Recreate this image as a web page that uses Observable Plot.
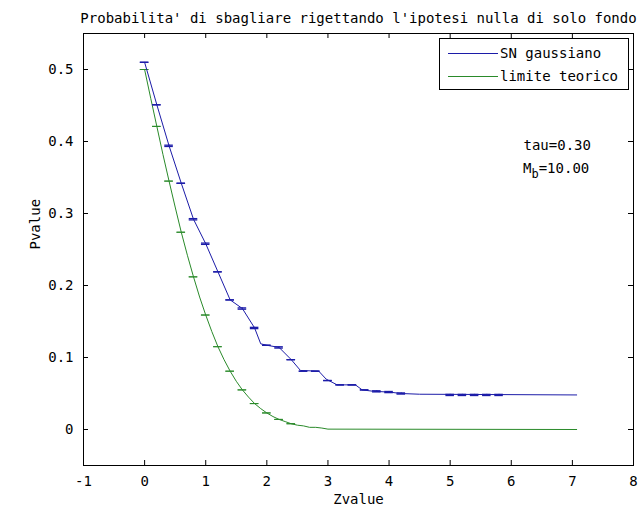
<!DOCTYPE html>
<html><head><meta charset="utf-8">
<script src="https://cdn.jsdelivr.net/npm/d3@7"></script>
<script src="https://cdn.jsdelivr.net/npm/@observablehq/plot@0.6"></script>
<style>body{margin:0;background:#fff}</style>
</head><body><div id="chart"></div>
<script>
const title = "Probabilita' di sbagliare rigettando l'ipotesi nulla di solo fondo";
const xLabel = "Zvalue";
const yLabel = "Pvalue";
const seriesNames = ["SN gaussiano", "limite teorico"];
const seriesColors = ["#1c1ca8", "#2a8a2a"];
const xTicks = [-1, 0, 1, 2, 3, 4, 5, 6, 7, 8];
const yTicks = [0, 0.1, 0.2, 0.3, 0.4, 0.5];
const yTickLabels = ["0", "0.1", "0.2", "0.3", "0.4", "0.5"];

// SN gaussiano (blue)
const snZ = [0, 0.2, 0.4, 0.6, 0.8, 1.0, 1.2, 1.4, 1.6, 1.8, 1.9, 2.0, 2.2, 2.4, 2.55, 2.85, 2.97, 3.15, 3.45, 3.56, 3.75, 4.0, 4.2, 4.5, 7.07];
const snP = [0.510, 0.451, 0.394, 0.342, 0.292, 0.258, 0.219, 0.180, 0.168, 0.141, 0.119, 0.117, 0.114, 0.097, 0.082, 0.081, 0.070, 0.062, 0.062, 0.055, 0.053, 0.052, 0.050, 0.049, 0.048];
// error bars on SN
const snBarZ = [0, 0.2, 0.4, 0.6, 0.8, 1.0, 1.2, 1.4, 1.6, 1.8, 2.0, 2.2, 2.4, 2.6, 2.8, 3.0, 3.2, 3.4, 3.6, 3.8, 4.0, 4.2, 5.0, 5.2, 5.4, 5.6, 5.8];
const snBarP = [0.510, 0.451, 0.394, 0.342, 0.292, 0.258, 0.219, 0.180, 0.168, 0.141, 0.117, 0.114, 0.097, 0.081, 0.081, 0.068, 0.062, 0.062, 0.055, 0.053, 0.052, 0.050, 0.048, 0.048, 0.048, 0.048, 0.048];
const snBarE = [0, 0, 0.0009, 0, 0.0009, 0.0009, 0, 0, 0.0009, 0.0009, 0, 0.0009, 0, 0, 0, 0, 0, 0, 0, 0.0008, 0.0008, 0.0008, 0.0008, 0.0008, 0.0008, 0.0008, 0.0008];

// limite teorico (green)
const limZ = [0, 0.1, 0.2, 0.3, 0.4, 0.5, 0.6, 0.7, 0.8, 0.9, 1.0, 1.1, 1.2, 1.3, 1.4, 1.5, 1.6, 1.7, 1.8, 1.9, 2.0, 2.1, 2.2, 2.3, 2.4, 2.5, 2.6, 2.7, 2.8, 2.9, 3.0, 7.07];
const limP = [0.500, 0.460, 0.421, 0.382, 0.345, 0.309, 0.274, 0.242, 0.212, 0.184, 0.159, 0.136, 0.115, 0.097, 0.081, 0.067, 0.055, 0.045, 0.036, 0.029, 0.023, 0.018, 0.014, 0.011, 0.008, 0.006, 0.005, 0.003, 0.003, 0.002, 0.0005, 0];
const limBarZ = [0, 0.2, 0.4, 0.6, 0.8, 1.0, 1.2, 1.4, 1.6, 1.8, 2.0, 2.2, 2.4];
const limBarP = [0.500, 0.421, 0.345, 0.274, 0.212, 0.159, 0.115, 0.081, 0.055, 0.036, 0.023, 0.014, 0.008];

const annTau = {z: 6.2, p: 0.395, text: "tau=0.30"};
const annMb = {z: 6.2, p: 0.362, main: "M", sub: "b", rest: "=10.00"};

const sn = snZ.map((z, i) => ({z, p: snP[i]}));
const lim = limZ.map((z, i) => ({z, p: limP[i]}));
const snBars = snBarZ.map((z, i) => ({z, p: snBarP[i], e: snBarE[i]}));
const limBars = limBarZ.map((z, i) => ({z, p: limBarP[i], e: 0}));

const W = 643, H = 514, mL = 83, mR = 10, mT = 33, mB = 49;
const fw = W - mL - mR, fh = H - mT - mB;
const capHalf = 0.07;
const font = "DejaVu Sans Mono";

function bars(data, color, sw) {
  return [
    Plot.ruleX(data, {x: "z", y1: d => d.p - d.e, y2: d => d.p + d.e, stroke: color, strokeWidth: 1}),
    Plot.ruleY(data, {y: d => d.p - d.e, x1: d => d.z - capHalf, x2: d => d.z + capHalf, stroke: color, strokeWidth: sw}),
    Plot.ruleY(data, {y: d => d.p + d.e, x1: d => d.z - capHalf, x2: d => d.z + capHalf, stroke: color, strokeWidth: sw})
  ];
}

const chart = Plot.plot({
  width: W, height: H,
  marginLeft: mL, marginRight: mR, marginTop: mT, marginBottom: mB,
  style: {fontFamily: font, fontSize: "14px", background: "#fff", color: "#000"},
  x: {domain: [-1, 8]},
  y: {domain: [-0.05, 0.55]},
  marks: [
    Plot.line(lim, {x: "z", y: "p", stroke: seriesColors[1], strokeWidth: 1}),
    ...bars(limBars, seriesColors[1], 1),
    Plot.line(sn, {x: "z", y: "p", stroke: seriesColors[0], strokeWidth: 1}),
    ...bars(snBars, seriesColors[0], 1.3),
    Plot.frame({stroke: "#000", strokeWidth: 1}),
    Plot.tickX(xTicks, {x: d => d, insetTop: fh - 5, stroke: "#000"}),
    Plot.tickX(xTicks, {x: d => d, insetBottom: fh - 5, stroke: "#000"}),
    Plot.tickY(yTicks, {y: d => d, insetRight: fw - 5, stroke: "#000"}),
    Plot.tickY(yTicks, {y: d => d, insetLeft: fw - 5, stroke: "#000"}),
    Plot.axisX(xTicks, {tickSize: 0, tickPadding: 11, tickFormat: d => String(d), label: null, fontSize: 14}),
    Plot.axisY(yTicks, {tickSize: 0, tickPadding: 10, tickFormat: (d, i) => yTickLabels[i], label: null, fontSize: 14}),
    Plot.text([xLabel], {frameAnchor: "bottom", dy: 38, fontSize: 14, fill: "#000"}),
    Plot.text([yLabel], {frameAnchor: "left", dx: -48, rotate: -90, fontSize: 14, fill: "#000"}),
    Plot.text([title], {frameAnchor: "top", dy: -20, fontSize: 14, fill: "#000"}),
    Plot.text([annTau], {x: "z", y: "p", text: "text", textAnchor: "start", fontSize: 14, fill: "#000"})
  ]
});

document.getElementById("chart").appendChild(chart);

const svg = d3.select(chart);
const xs = chart.scale("x"), ys = chart.scale("y");
// M_b annotation with subscript
const mb = svg.append("text")
  .attr("x", xs.apply(annMb.z)).attr("y", ys.apply(annMb.p))
  .attr("dy", "0.32em").attr("text-anchor", "start")
  .attr("font-family", font).attr("font-size", 14).attr("fill", "#000");
mb.append("tspan").text(annMb.main);
mb.append("tspan").attr("dy", 5).attr("font-size", 12).text(annMb.sub);
mb.append("tspan").attr("dy", -5).text(annMb.rest);

// legend
const lx = 439.5, ly = 38.5, lw = 189, lh = 51;
const lg = svg.append("g");
lg.append("rect").attr("x", lx).attr("y", ly).attr("width", lw).attr("height", lh)
  .attr("fill", "#fff").attr("stroke", "#000");
seriesNames.forEach((name, i) => {
  const yy = 53.5 + i * 23;
  lg.append("line").attr("x1", 448).attr("x2", 498).attr("y1", yy).attr("y2", yy)
    .attr("stroke", seriesColors[i]).attr("stroke-width", 1);
  lg.append("text").attr("x", 500).attr("y", yy).attr("dy", "0.32em").attr("text-anchor", "start")
    .attr("font-family", font).attr("font-size", 14).attr("fill", "#000").text(name);
});
</script>
</body></html>
